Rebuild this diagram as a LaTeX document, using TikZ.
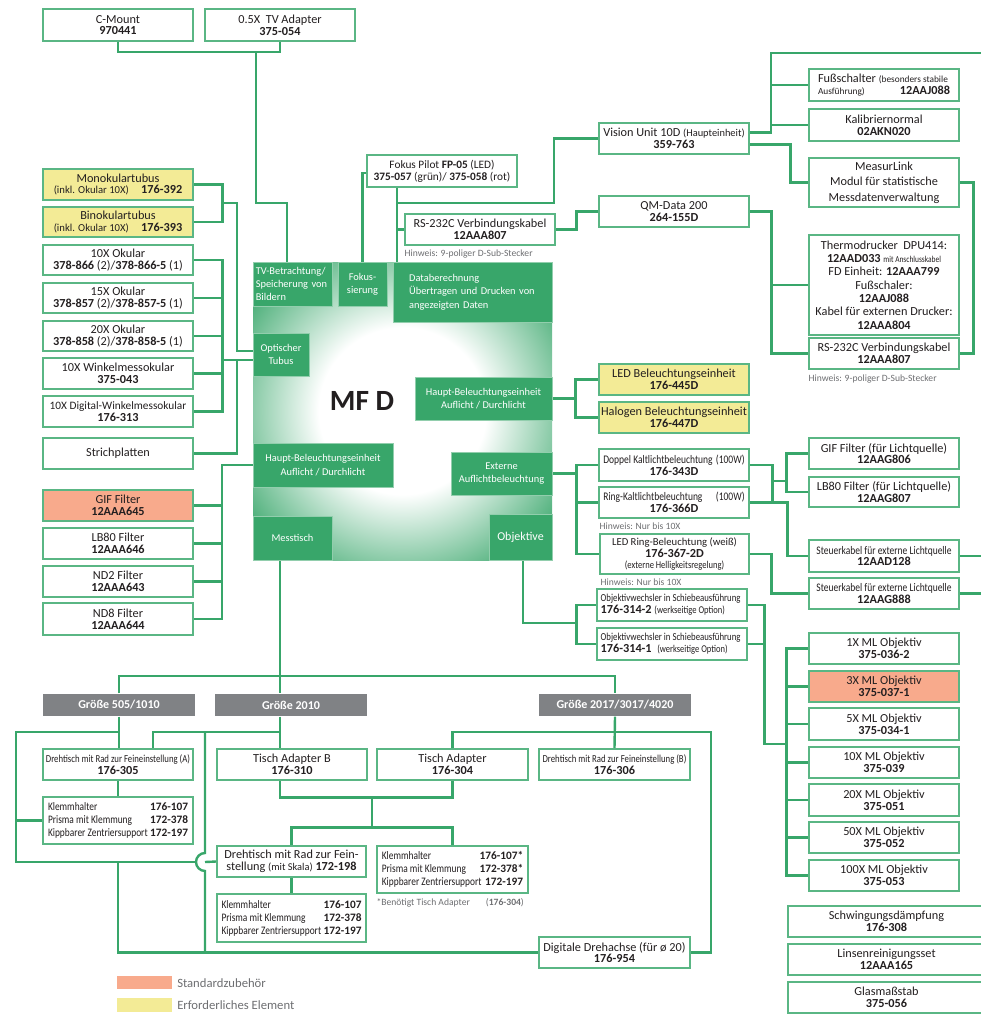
\documentclass[tikz,border=0pt]{standalone}
\usepackage{fontspec}
\setmainfont{Carlito}
\newfontfamily\condf[FakeStretch=0.82]{Carlito}
\usetikzlibrary{calc}
\definecolor{lgreen}{RGB}{56,166,106}
\definecolor{bgreen}{RGB}{90,182,132}
\definecolor{mfg}{RGB}{56,166,106}
\definecolor{yel}{RGB}{243,235,150}
\definecolor{salm}{RGB}{248,170,140}
\definecolor{hgray}{RGB}{128,130,133}
\definecolor{txt}{RGB}{35,31,32}
\definecolor{ngray}{RGB}{109,110,113}
\pgfdeclarelayer{bg}
\pgfsetlayers{bg,main}
\pgfdeclareradialshading{mfdsh}{\pgfpoint{0bp}{0bp}}{color(0bp)=(white);color(14bp)=(white);color(33bp)=(mfg);color(50bp)=(mfg)}
\newcommand\fm{\fontsize{9.2}{8.8}\selectfont}
\newcommand\fsm{\fontsize{7.8}{8.8}\selectfont}
\newcommand\fcs{\condf\fontsize{8.7}{8.8}\selectfont}
\newcommand\fcss{\condf\fontsize{7.8}{8.8}\selectfont}
\newcommand\fsub{\fontsize{7.8}{10}\selectfont}
\newcommand\kl[3]{\hbox to #1{{\condf\fontsize{8.6}{9.7}\selectfont #2}\hfil\textbf{#3}}}
\newcommand\bx[7]{\node[box,minimum width={(#4-#2)*0.75pt},minimum height={(#5-#3)*0.75pt},#6] (#1) at ({(#2+#4)/2},{(#3+#5)/2}) {#7};}
\begin{document}
\begin{tikzpicture}[x=0.75pt,y=-0.75pt,
 box/.style={draw=bgreen,line width=1pt,fill=white,inner sep=0.5pt,align=center,font=\fm,text=txt},
 ln/.style={draw=lgreen,line width=1.8pt},
 sub/.style={fill=mfg,draw=mfg!55!white,line width=0.4pt,text=white,font=\fsub,inner sep=1pt,align=center},
 note/.style={font=\fontsize{7.2}{8}\selectfont,text=ngray,inner sep=0pt,anchor=west},
 hdr/.style={fill=hgray,draw=none,text=white,font=\bfseries\fontsize{9}{10}\selectfont},
 lgt/.style={font=\fontsize{9.5}{10}\selectfont,text=ngray,inner sep=0pt,anchor=west}]
\useasboundingbox (0,0) rectangle (981,1014);

% ---------- top
\bx{cmount}{43}{9}{193}{41}{}{C-Mount\\\textbf{970441}}
\bx{tvad}{205}{9}{355}{41}{}{0.5X\ \ TV Adapter\\\textbf{375-054}}

% ---------- left column
\bx{mono}{43}{169}{193}{200}{fill=yel}{Monokulartubus\\{\fontsize{8}{8.8}\selectfont (inkl. Okular 10X)}\quad\textbf{176-392}}
\bx{bino}{43}{207}{193}{237}{fill=yel}{Binokulartubus\\{\fontsize{8}{8.8}\selectfont (inkl. Okular 10X)}\quad\textbf{176-393}}
\bx{ok10}{43}{245}{193}{275}{}{10X Okular\\\textbf{378-866} (2)/\textbf{378-866-5} (1)}
\bx{ok15}{43}{283}{193}{313}{}{15X Okular\\\textbf{378-857} (2)/\textbf{378-857-5} (1)}
\bx{ok20}{43}{321}{193}{351}{}{20X Okular\\\textbf{378-858} (2)/\textbf{378-858-5} (1)}
\bx{wink}{43}{358}{193}{389}{}{10X Winkelmessokular\\\textbf{375-043}}
\bx{dwink}{43}{396}{193}{427}{}{{\fontsize{8.5}{8.8}\selectfont 10X Digital-Winkelmessokular}\\\textbf{176-313}}
\bx{strich}{43}{438}{193}{469}{}{Strichplatten}
\bx{gif}{43}{490}{193}{521}{fill=salm}{GIF Filter\\\textbf{12AAA645}}
\bx{lb80}{43}{528}{193}{559}{}{LB80 Filter\\\textbf{12AAA646}}
\bx{nd2}{43}{566}{193}{597}{}{ND2 Filter\\\textbf{12AAA643}}
\bx{nd8}{43}{603}{193}{635}{}{ND8 Filter\\\textbf{12AAA644}}

% ---------- centre top
\bx{fokus}{367}{155}{517}{187}{font=\fontsize{8.5}{8.8}\selectfont}{Fokus Pilot \textbf{FP-05} (LED)\\\textbf{375-057} (grün)/\ \textbf{375-058} (rot)}
\bx{rs1}{405}{214}{555}{245}{}{RS-232C Verbindungskabel\\\textbf{12AAA807}}
\node[note] (rs1n) at ($(rs1.south west)+(0,8)$) {Hinweis: 9-poliger D-Sub-Stecker};

% ---------- right top
\bx{vision}{599}{123}{749}{154}{}{Vision Unit 10D {\fsm (Haupteinheit)}\\\textbf{359-763}}
\bx{qm}{599}{196}{749}{227}{}{QM-Data 200\\\textbf{264-155D}}
\bx{fuss}{809}{69}{959}{101}{}{\hbox to 99pt{Fußschalter {\fontsize{7}{8.8}\selectfont (besonders stabile}\hfil}\\\hbox to 99pt{{\fontsize{7}{8.8}\selectfont Ausführung)}\hfil\textbf{12AAJ088}}}
\bx{kalib}{809}{109}{959}{141}{}{Kalibriernormal\\\textbf{02AKN020}}
\bx{measur}{809}{158}{959}{207}{font=\fontsize{9.2}{11.5}\selectfont}{MeasurLink\\Modul für statistische\\Messdatenverwaltung}
\bx{thermo}{809}{235}{959}{335}{font=\fontsize{9.2}{10}\selectfont}{Thermodrucker\ \ DPU414:\\\textbf{12AAD033} {\condf\fontsize{6.8}{8}\selectfont mit Anschlusskabel}\\FD Einheit: \textbf{12AAA799}\\Fußschaler:\\\textbf{12AAJ088}\\Kabel für externen Drucker:\\\textbf{12AAA804}}
\bx{rs2}{809}{338}{959}{369}{}{RS-232C Verbindungskabel\\\textbf{12AAA807}}
\node[note] (rs2n) at ($(rs2.south west)+(0,9)$) {Hinweis: 9-poliger D-Sub-Stecker};

% ---------- right middle
\bx{led}{599}{364}{749}{395}{fill=yel}{LED Beleuchtungseinheit\\\textbf{176-445D}}
\bx{halo}{599}{402}{749}{433}{fill=yel}{Halogen Beleuchtungseinheit\\\textbf{176-447D}}
\bx{doppel}{599}{449}{749}{481}{}{\hbox to 106pt{\fcs Doppel Kaltlichtbeleuchtung\hfil(100W)}\\\textbf{176-343D}}
\bx{ring}{599}{487}{749}{518}{}{\hbox to 106pt{\fcs Ring-Kaltlichtbeleuchtung\hfil(100W)}\\\textbf{176-366D}}
\node[note] (ringn) at ($(ring.south west)+(1,8)$) {Hinweis: Nur bis 10X};
\bx{ledring}{600}{534}{749}{574}{font=\fontsize{9.2}{8.6}\selectfont}{{\fontsize{8}{8.6}\selectfont LED Ring-Beleuchtung (weiß)}\\\textbf{176-367-2D}\\{\fcss (externe Helligkeitsregelung)}}
\node[note] (ledringn) at ($(ledring.south west)+(1,8)$) {Hinweis: Nur bis 10X};
\bx{ow2}{597}{589}{747}{621}{}{\hbox to 107pt{{\condf\fontsize{8}{8.8}\selectfont Objektivwechsler in Schiebeausführung}\hfil}\\\hbox to 107pt{\textbf{176-314-2} {\fcss (werkseitige Option)}\hfil}}
\bx{ow1}{597}{628}{747}{660}{}{\hbox to 107pt{{\condf\fontsize{8}{8.8}\selectfont Objektivwechsler in Schiebeausführung}\hfil}\\\hbox to 107pt{\textbf{176-314-1}\ \ {\fcss (werkseitige Option)}\hfil}}
\bx{gifr}{809}{438}{959}{469}{}{GIF Filter (für Lichtquelle)\\\textbf{12AAG806}}
\bx{lb80r}{809}{477}{959}{507}{}{LB80 Filter (für Lichtquelle)\\\textbf{12AAG807}}
\bx{st1}{809}{540}{959}{572}{}{{\fcs Steuerkabel für externe Lichtquelle}\\\textbf{12AAD128}}
\bx{st2}{809}{578}{959}{609}{}{{\fcs Steuerkabel für externe Lichtquelle}\\\textbf{12AAG888}}

% ---------- objectives
\bx{o1}{809}{633}{959}{664}{}{1X ML Objektiv\\\textbf{375-036-2}}
\bx{o3}{809}{671}{959}{702}{fill=salm}{3X ML Objektiv\\\textbf{375-037-1}}
\bx{o5}{809}{708}{959}{740}{}{5X ML Objektiv\\\textbf{375-034-1}}
\bx{o10}{809}{747}{959}{778}{}{10X ML Objektiv\\\textbf{375-039}}
\bx{o20}{809}{784}{959}{816}{}{20X ML Objektiv\\\textbf{375-051}}
\bx{o50}{809}{822}{959}{853}{}{50X ML Objektiv\\\textbf{375-052}}
\bx{o100}{809}{860}{959}{891}{}{100X ML Objektiv\\\textbf{375-053}}
\bx{schw}{788}{906}{985}{937}{}{Schwingungsdämpfung\\\textbf{176-308}}
\bx{linse}{788}{944}{985}{975}{}{Linsenreinigungsset\\\textbf{12AAA165}}
\bx{glas}{788}{982}{985}{1013}{}{Glasmaßstab\\\textbf{375-056}}

% ---------- MF D block
\node[shade,shading=mfdsh,minimum width=224.25pt,minimum height=223.5pt,inner sep=0pt] (mfd) at (402.5,411) {};
\bx{tvb}{253}{262}{332}{306}{sub,text width=55pt,align=left}{TV-Betrachtung/\\Speicherung von\\Bildern}
\bx{fok}{338}{262}{387}{306}{sub}{Fokus-\\sierung}
\bx{datab}{393}{262}{552}{322}{sub,text width=95pt,align=left}{Databerechnung\\Übertragen und Drucken von\\angezeigten Daten}
\bx{opt}{253}{333}{309}{376}{sub}{Optischer\\Tubus}
\bx{hbr}{415}{377}{552}{420}{sub}{Haupt-Beleuchtungseinheit\\Auflicht / Durchlicht}
\bx{hbl}{253}{443}{393}{487}{sub}{Haupt-Beleuchtungseinheit\\Auflicht / Durchlicht}
\bx{ext}{451}{452}{552}{495}{sub}{Externe\\Auflichtbeleuchtung}
\bx{mess}{253}{516}{332}{560}{sub}{Messtisch}
\bx{obj}{489}{514}{552}{560}{sub,font=\fontsize{9}{10}\selectfont}{Objektive}
\node[font=\bfseries\fontsize{22}{24}\selectfont,text=txt,inner sep=0pt] (mfdt) at (362,401) {MF D};

% ---------- bottom
\bx{g505}{43}{694}{195}{716}{hdr}{Größe 505/1010}
\bx{g2010}{215}{694}{367}{716}{hdr}{Größe 2010}
\bx{g2017}{539}{694}{691}{716}{hdr}{Größe 2017/3017/4020}
\bx{dA}{43}{749}{193}{780}{}{{\condf\fontsize{8}{8.8}\selectfont Drehtisch mit Rad zur Feineinstellung (A)}\\\textbf{176-305}}
\bx{kl1}{43}{797}{193}{844}{font=\fontsize{8.5}{9.7}\selectfont}{\kl{105pt}{Klemmhalter}{176-107}\\\kl{105pt}{Prisma mit Klemmung}{172-378}\\\kl{105pt}{Kippbarer Zentriersupport}{172-197}}
\bx{tab}{217}{749}{367}{780}{}{Tisch Adapter B\\\textbf{176-310}}
\bx{ta}{377}{749}{528}{780}{}{Tisch Adapter\\\textbf{176-304}}
\bx{dB}{539}{749}{690}{780}{}{{\condf\fontsize{8}{8.8}\selectfont Drehtisch mit Rad zur Feineinstellung (B)}\\\textbf{176-306}}
\bx{skala}{217}{846}{366}{877}{}{Drehtisch mit Rad zur Fein-\\stellung {\fsm (mit Skala)} \textbf{172-198}}
\bx{kl2}{217}{894}{366}{942}{font=\fontsize{8.5}{9.7}\selectfont}{\kl{105pt}{Klemmhalter}{176-107}\\\kl{105pt}{Prisma mit Klemmung}{172-378}\\\kl{105pt}{Kippbarer Zentriersupport}{172-197}}
\bx{kl3}{377}{846}{528}{893}{font=\fontsize{8.5}{9.7}\selectfont}{\kl{106pt}{Klemmhalter}{176-107*}\\\kl{106pt}{Prisma mit Klemmung}{172-378*}\\\kl{106pt}{Kippbarer Zentriersupport}{172-197}}
\node[note] (kl3n) at ($(kl3.south west)+(0,9)$) {*Benötigt Tisch Adapter\hspace{12pt}(\textbf{176-304})};
\bx{digi}{539}{937}{690}{968}{}{Digitale Drehachse (für ø 20)\\\textbf{176-954}}

% ---------- legend
\node[fill=salm,minimum width=41.25pt,minimum height=9.75pt,inner sep=0pt] (lg1) at (144.5,982.5) {};
\node[lgt] (lg1t) at (177,983) {Standardzubehör};
\node[fill=yel,minimum width=41.25pt,minimum height=10.5pt,inner sep=0pt] (lg2) at (144.5,1005) {};
\node[lgt] (lg2t) at (177,1005) {Erforderliches Element};

% ---------- connectors
\begin{pgfonlayer}{bg}
\coordinate (jtv) at (256,52);
\draw[ln] (cmount.south) |- (jtv) -| (tvad.south);
\draw[ln] (jtv) -- (256,203) -| ($(tvb.north west)+(34,0)$);
\draw[ln] (fokus.west |- 0,173) -| (fok.north);
\coordinate (dv) at (397,203);
\draw[ln] (vision.west) -| (554,203) -- (dv) -- (dv |- datab.north);
\draw[ln] (fokus.south -| dv) -- (dv);
\draw[ln] (rs1.west) -- (rs1.west -| dv);
\draw[ln] (rs1.east) -- ++(21,0) |- (qm.west);
\draw[ln] ($(vision.east)+(0,-6)$) -| (771,53) -- (985,53);
\draw[ln] (fuss.west) -- (fuss.west -| 771,0);
\draw[ln] (kalib.west) -- (kalib.west -| 771,0);
\draw[ln] ($(vision.east)+(0,6)$) -- ++(41,0) |- (measur.west);
\draw[ln] (measur.east) -- ++(14,0) |- (rs2.east);
\draw[ln] (qm.east) -- ++(22,0) |- (rs2.west);
\draw[ln] (thermo.west) -- (thermo.west -| 771,0);
% left
\draw[ln] (mono.east) -- ++(29,0) |- (bino.east);
\draw[ln] (222,203) -- (237,203) |- (opt.west |- 0,351);
\draw[ln] (ok10.east) -- ++(29,0) |- (dwink.east);
\foreach \n in {ok15,ok20,wink} \draw[ln] (\n.east) -- ++(29,0);
\draw[ln] (222,360) -- (opt.west |- 0,360);
\draw[ln] (strich.east) -| (237,360);
\draw[ln] (hbl.west) -| (222,619) -- (nd8.east);
\foreach \n in {gif,lb80,nd2} \draw[ln] (\n.east) -- ++(29,0);
% right
\draw[ln] (hbr.east) -- (hbr.east -| 576,0);
\draw[ln] (led.west) -- ++(-23,0) |- (halo.west);
\draw[ln] (ext.east) -- (ext.east -| 577,0);
\draw[ln] (doppel.west) -- ++(-22,0) |- (ledring.west);
\draw[ln] (ring.west) -- ++(-22,0);
\draw[ln] (doppel.east) -- ++(23,0) |- (ring.east);
\draw[ln] (772,481) -- (787,481);
\draw[ln] (gifr.west) -- ++(-22,0) |- (lb80r.west);
\draw[ln] ($(ring.east)+(23,0)$) -- ++(15,0) |- (st1.west);
\draw[ln] (ledring.east) -- ++(22,0) |- (st2.west);
\draw[ln] (st1.east) -- ++(30,0);
\draw[ln] (st2.east) -- ++(30,0);
\draw[ln] ($(obj.south)+(2.5,0)$) |- (577,623);
\draw[ln] (ow2.west) -- ++(-20,0) |- (ow1.west);
\draw[ln] (ow2.east) -- ++(17,0) |- (787,744);
\draw[ln] (ow1.east) -- ++(17,0);
\draw[ln] (o1.west) -- ++(-22,0) |- (o100.west);
\foreach \n in {o3,o5,o10,o20,o50} \draw[ln] (\n.west) -- ++(-22,0);
% bottom
\coordinate (jb) at (280,676);
\draw[ln] (mess.south -| jb) -- (jb |- g2010.north);
\draw[ln] (g505.north) |- (jb) -| (g2017.north);
\draw[ln] (g505.south) -- (g505.south |- dA.north);
\draw[ln] (dA.south) -- (kl1.north);
\coordinate (L1) at (16,732);
\draw[ln] (g505.south |- L1) -- (L1) -- (16,862) -- (196,862);
\draw[ln] (kl1.west) -- (kl1.west -| L1);
\draw[ln] (205,732) -- (205,853) arc[start angle=90,end angle=270,radius=6.75pt] -- (205,953);
\draw[ln] (205,862) -- (skala.west);
\draw[ln] (118,862) |- (digi.west);
\draw[ln] (g2010.south -| jb) -- (jb |- tab.north);
\draw[ln] ($(dA.north)+(35,0)$) |- (jb |- 0,732);
\draw[ln] (tab.south -| jb) -- ++(0,17) -| (ta.south);
\draw[ln] (372,797) -- (372,828);
\draw[ln] (skala.north) -- ++(0,-18) -| (kl3.north);
\draw[ln] (skala.south) -- (kl2.north);
\draw[ln] (g2017.south) -- (dB.north);
\draw[ln] (ta.north) |- (711,732) |- (digi.east);
\end{pgfonlayer}
\end{tikzpicture}
\end{document}
